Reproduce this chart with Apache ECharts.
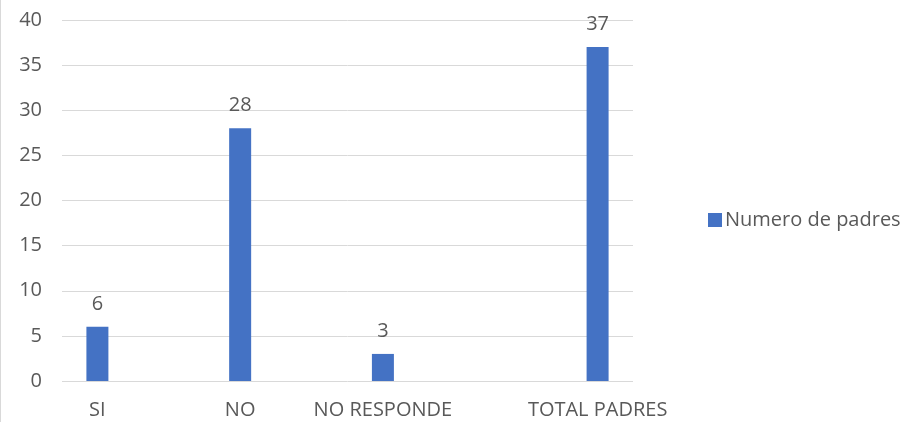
<!DOCTYPE html>
<html>
<head>
<meta charset="utf-8">
<script src="https://cdn.jsdelivr.net/npm/echarts@6/dist/echarts.min.js"></script>
<style>
  html, body { margin: 0; padding: 0; background: #fff; }
  #chart { width: 903px; height: 422px; }
</style>
</head>
<body>
<div id="chart"></div>
<script>
// Respuestas de los padres
const categories = ['SI', 'NO', 'NO RESPONDE', 'TOTAL PADRES'];
const respuestas = [6, 28, 3, '-'];
const totalPadres = ['-', '-', '-', 37];
const yTicks = { min: 0, max: 40, interval: 5 };

const FONT = '"Open Sans", "Noto Sans", sans-serif';
const FS = 20;
const BLUE = '#4472C4';
const TEXT = '#595959';

const chart = echarts.init(document.getElementById('chart'));

const valueLabel = {
  show: true,
  position: 'top',
  distance: 13,
  color: TEXT,
  fontSize: FS,
  fontFamily: FONT
};

chart.setOption({
  animation: false,
  grid: { left: 62, right: 270, top: 20, bottom: 41, containLabel: false },
  legend: {
    data: ['Numero de padres'],
    orient: 'vertical',
    left: 703,
    top: 205,
    itemWidth: 14,
    itemHeight: 14,
    itemGap: 6,
    icon: 'rect',
    textStyle: { color: TEXT, fontSize: FS, fontFamily: FONT, padding: [0, 0, 0, -2] }
  },
  xAxis: {
    type: 'category',
    data: categories,
    axisLine: { show: false },
    axisTick: { show: false },
    axisLabel: {
      interval: 0,
      margin: 19,
      color: TEXT,
      fontSize: FS,
      fontFamily: FONT,
      formatter: function (v, i) {
        return i < 3 ? '{l|' + v + '}' : '{r|' + v + '}';
      },
      rich: {
        l: { color: TEXT, fontSize: FS, fontFamily: FONT, padding: [0, 72, 0, 0] },
        r: { color: TEXT, fontSize: FS, fontFamily: FONT, padding: [0, 0, 0, 72] }
      }
    }
  },
  yAxis: {
    type: 'value',
    min: yTicks.min,
    max: yTicks.max,
    interval: yTicks.interval,
    axisLine: { show: false },
    axisTick: { show: false },
    axisLabel: { color: TEXT, fontSize: FS, fontFamily: FONT, margin: 20 },
    splitLine: { lineStyle: { color: '#d9d9d9', width: 1 } }
  },
  series: [
    {
      name: 'Numero de padres',
      type: 'bar',
      data: respuestas,
      barWidth: 22,
      barGap: '227%',
      itemStyle: { color: BLUE },
      label: valueLabel
    },
    {
      name: 'Total',
      type: 'bar',
      data: totalPadres,
      barWidth: 22,
      barGap: '227%',
      itemStyle: { color: BLUE },
      label: valueLabel
    }
  ],
  graphic: [
    {
      type: 'line',
      shape: { x1: 0.5, y1: 0, x2: 0.5, y2: 422 },
      style: { stroke: '#d9d9d9', lineWidth: 1 }
    }
  ]
});
</script>
</body>
</html>
